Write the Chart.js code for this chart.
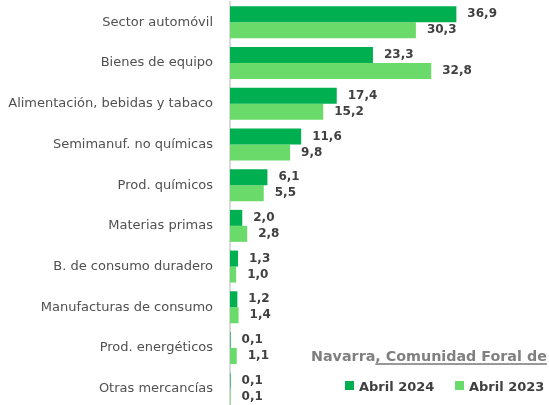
<!DOCTYPE html>
<html>
<head>
<meta charset="utf-8">
<script src="https://cdn.jsdelivr.net/npm/chart.js"></script>
<style>
  html, body { margin: 0; padding: 0; background: #fff; overflow: hidden; }
  #wrap { position: relative; width: 549px; height: 405px; overflow: hidden; }
  #chart { position: absolute; left: 0; top: 0; }
  .region {
    position: absolute; left: 311px; top: 348px; white-space: nowrap;
    font: bold 14.3px "DejaVu Sans", sans-serif; line-height: 16px; color: #808080;
  }
  .region span { text-decoration: underline; text-decoration-thickness: 2px; text-underline-offset: 2px; text-decoration-color: #999; }
  .legend { position: absolute; top: 379px; left: 345px; font: bold 13px "DejaVu Sans", sans-serif; line-height: 15px; color: #404040; white-space: nowrap; }
  .legend .item { position: absolute; top: 0; }
  .legend .box { position: absolute; top: 2px; left: 0; width: 9px; height: 9px; }
  .legend .txt { position: absolute; left: 14px; top: 0; }
</style>
</head>
<body>
<div id="wrap">
  <canvas id="chart" width="549" height="409"></canvas>
  <div class="region">Navarra<span>, Comunidad Foral de</span></div>
  <div class="legend" id="legend"></div>
</div>
<script>
const categorias = [
  'Sector automóvil',
  'Bienes de equipo',
  'Alimentación, bebidas y tabaco',
  'Semimanuf. no químicas',
  'Prod. químicos',
  'Materias primas',
  'B. de consumo duradero',
  'Manufacturas de consumo',
  'Prod. energéticos',
  'Otras mercancías'
];
const abril2024 = [36.9, 23.3, 17.4, 11.6, 6.1, 2.0, 1.3, 1.2, 0.1, 0.1];
const abril2023 = [30.3, 32.8, 15.2, 9.8, 5.5, 2.8, 1.0, 1.4, 1.1, 0.1];
const series = ['Abril 2024', 'Abril 2023'];
const colores = ['#00B050', '#6ADB6A'];

// etiquetas de valor al final de cada barra
const etiquetas = {
  id: 'etiquetas',
  afterDatasetsDraw(chart) {
    const ctx = chart.ctx;
    ctx.save();
    ctx.font = 'bold 12px "DejaVu Sans", sans-serif';
    ctx.fillStyle = '#404040';
    ctx.textAlign = 'left';
    ctx.textBaseline = 'middle';
    chart.data.datasets.forEach((ds, i) => {
      chart.getDatasetMeta(i).data.forEach((bar, j) => {
        const txt = ds.data[j].toFixed(1).replace('.', ',');
        ctx.fillText(txt, bar.x + 11, bar.y);
      });
    });
    ctx.restore();
  }
};

const ctx = document.getElementById('chart').getContext('2d');
const chart = new Chart(ctx, {
  type: 'bar',
  data: {
    labels: categorias,
    datasets: [
      { label: series[0], data: abril2024, backgroundColor: colores[0], borderWidth: 0 },
      { label: series[1], data: abril2023, backgroundColor: colores[1], borderWidth: 0 }
    ]
  },
  options: {
    indexAxis: 'y',
    responsive: false,
    animation: false,
    devicePixelRatio: 1,
    categoryPercentage: 0.786,
    barPercentage: 1,
    layout: { padding: { top: 2, right: 0, bottom: 0, left: 0 } },
    plugins: {
      legend: { display: false },
      tooltip: { enabled: false }
    },
    scales: {
      x: { display: false, min: 0, max: 52 },
      y: {
        afterFit(scale) {
          scale.width = 230;
          scale.paddingTop = 0;
          scale.paddingBottom = 0;
        },
        grid: { display: false, drawTicks: false, tickLength: 0 },
        border: { display: true, color: '#D9D9D9', width: 2 },
        ticks: {
          padding: 17,
          color: '#505050',
          font: { family: 'DejaVu Sans', size: 13 }
        }
      }
    }
  },
  plugins: [etiquetas]
});

// leyenda
const leyenda = document.getElementById('legend');
const posiciones = [0, 110];
series.forEach((s, i) => {
  const it = document.createElement('div');
  it.className = 'item';
  it.style.left = posiciones[i] + 'px';
  it.innerHTML = '<div class="box" style="background:' + colores[i] + '"></div><div class="txt">' + s + '</div>';
  leyenda.appendChild(it);
});
</script>
</body>
</html>
